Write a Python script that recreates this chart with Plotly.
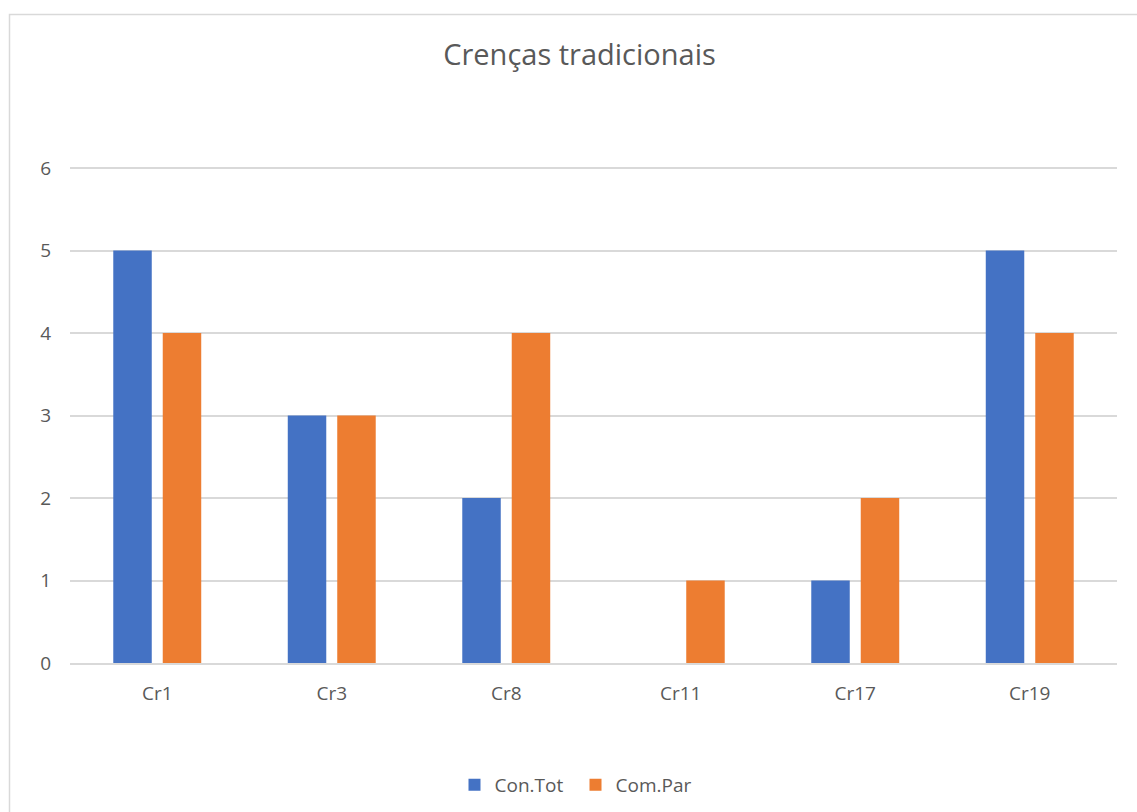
import plotly.graph_objects as go

categories = ["Cr1", "Cr3", "Cr8", "Cr11", "Cr17", "Cr19"]
con_tot = [5, 3, 2, 0, 1, 5]
com_par = [4, 3, 4, 1, 2, 4]
y_ticks = [0, 1, 2, 3, 4, 5, 6]

W, H = 1137, 812
L, R, T, B = 70, 20, 163, 149
plot_w = W - L - R
plot_h = H - T - B
y_top = 6 + 5 / 82.5  # small headroom so the top gridline stays visible

fig = go.Figure()
fig.add_trace(go.Bar(name="Con.Tot", x=categories, y=con_tot, marker_color="#4472C4",
                     marker_line_width=0))
fig.add_trace(go.Bar(name="Com.Par", x=categories, y=com_par, marker_color="#ED7D31",
                     marker_line_width=0))

# chart frame (left and top edges fall inside the page)
def px_to_paper_x(px):
    return (px - L) / plot_w

def px_to_paper_y(py):
    return (H - B - py) / plot_h

fig.add_shape(type="rect", xref="paper", yref="paper",
              x0=px_to_paper_x(9.5), x1=px_to_paper_x(W + 20),
              y0=px_to_paper_y(H + 20), y1=px_to_paper_y(14.5),
              line=dict(color="#D9D9D9", width=1.5), fillcolor="rgba(0,0,0,0)", layer="below")

font_family = "Open Sans, Noto Sans, sans-serif"
fig.update_layout(
    width=W, height=H,
    margin=dict(l=L, r=R, t=T, b=B),
    paper_bgcolor="white", plot_bgcolor="white",
    barmode="group", bargap=0.433, bargroupgap=0.222,
    title=dict(text="Crenças tradicionais", x=579.5 / W, xref="container", xanchor="center",
               y=1 - 55 / H, yref="container", yanchor="middle",
               font=dict(family=font_family, size=29, color="#595959")),
    font=dict(family=font_family, size=19, color="#595959"),
    legend=dict(orientation="h", x=0.5 + 7 / W, xref="container", xanchor="center",
                y=1 - 785 / H, yref="container", yanchor="middle",
                font=dict(size=19, color="#595959"), itemwidth=30,
                entrywidth=76, entrywidthmode="pixels",
                traceorder="normal"),
    showlegend=True,
)
fig.update_yaxes(range=[0, y_top], tickvals=y_ticks, showgrid=True, gridcolor="#D9D9D9",
                 gridwidth=1.5, zeroline=False, showline=False, ticks="",
                 ticklabelstandoff=18, tickfont=dict(size=19, color="#595959"),
                 fixedrange=True)
fig.update_xaxes(showgrid=False, showline=True, linecolor="#D9D9D9", linewidth=1.5,
                 ticks="", ticklabelstandoff=12, tickfont=dict(size=19, color="#595959"))

fig.write_html("out.html")
